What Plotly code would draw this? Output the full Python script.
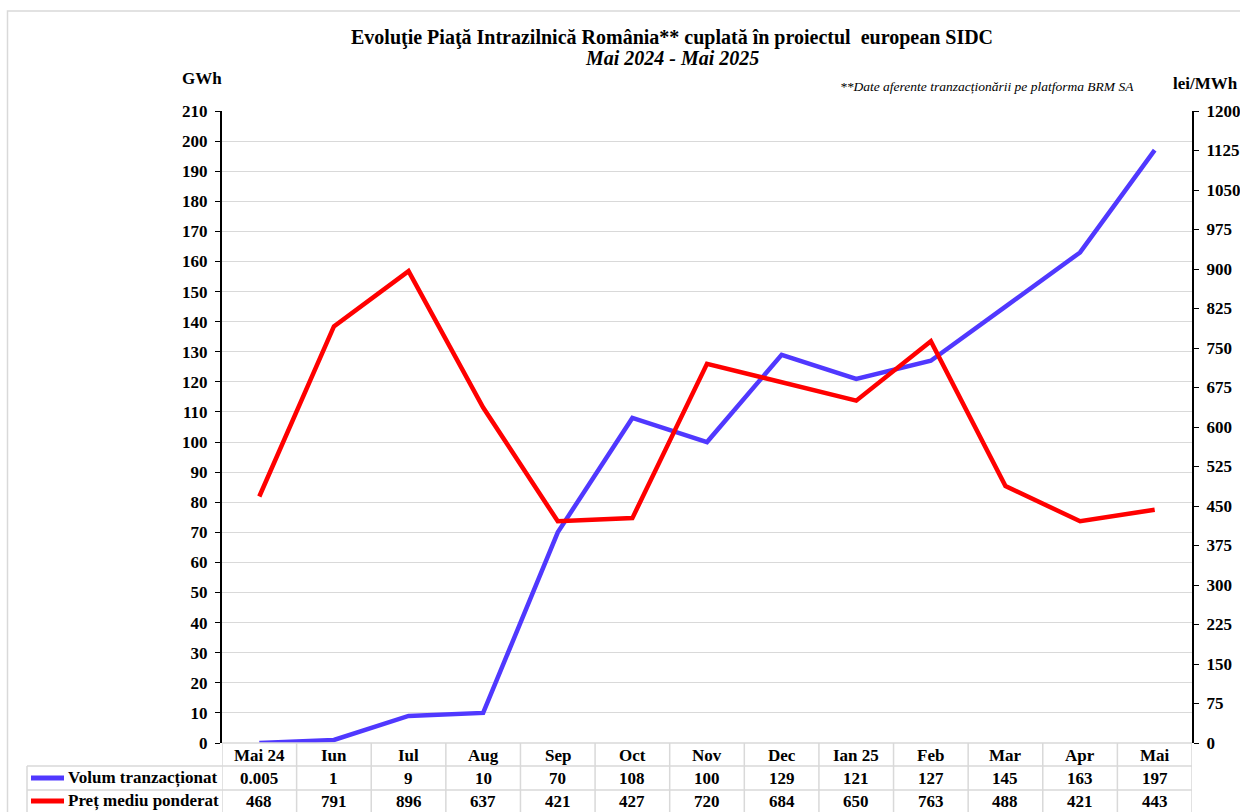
import plotly.graph_objects as go

months = ["Mai 24", "Iun", "Iul", "Aug", "Sep", "Oct", "Nov", "Dec", "Ian 25", "Feb", "Mar", "Apr", "Mai"]
volum = [0.005, 1, 9, 10, 70, 108, 100, 129, 121, 127, 145, 163, 197]
pret = [468, 791, 896, 637, 421, 427, 720, 684, 650, 763, 488, 421, 443]

W, H = 1240, 812
L, R, T, B = 222, 1192, 111, 743  # plot area in page pixels
FONT = "Liberation Serif, Times New Roman, serif"
BLUE = "#5038FF"
RED = "#FF0000"
GRID = "#d9d9d9"


def px(X):
    return (X - L) / (R - L)


def py(Y):
    return (B - Y) / (B - T)


fig = go.Figure()
xs = list(range(len(months)))
fig.add_trace(go.Scatter(x=xs, y=volum, mode="lines", name="Volum tranzacționat",
                         line=dict(color=BLUE, width=4.5), yaxis="y"))
fig.add_trace(go.Scatter(x=xs, y=pret, mode="lines", name="Preț mediu ponderat",
                         line=dict(color=RED, width=4.5), yaxis="y2"))

tickfont = dict(family=FONT, size=17, color="black")
fig.update_layout(
    template="none",
    width=W, height=H,
    margin=dict(l=L, r=W - R, t=T, b=H - B, autoexpand=False),
    paper_bgcolor="white", plot_bgcolor="white",
    showlegend=False,
    font=dict(family=FONT, color="black"),
    xaxis=dict(range=[-0.5, len(months) - 0.5], showticklabels=False, showgrid=False,
               zeroline=False, showline=False, ticks="", automargin=False),
    yaxis=dict(range=[0, 210], dtick=10, tickfont=tickfont, ticks="outside", ticklen=5,
               tickcolor="black", tickwidth=1, showline=True, linecolor="black", linewidth=2,
               gridcolor=GRID, gridwidth=1, zeroline=False, tickprefix="<b>", ticksuffix="</b>",
               automargin=False, ticklabelstandoff=4),
    yaxis2=dict(range=[0, 1200], dtick=75, tickfont=tickfont, ticks="outside", ticklen=5,
                tickcolor="black", tickwidth=1, showline=True, linecolor="black", linewidth=2,
                showgrid=False, zeroline=False, overlaying="y", side="right",
                tickprefix="<b>", ticksuffix="</b>", automargin=False, ticklabelstandoff=4),
)

shapes = []
line_style = dict(color=GRID, width=1.5)
# outer frame
shapes.append(dict(type="rect", xref="paper", yref="paper", x0=px(7.5), x1=px(1260), y0=py(830), y1=py(11),
                   line=dict(color=GRID, width=1.5), fillcolor="rgba(0,0,0,0)", layer="below"))
# table horizontal lines
shapes.append(dict(type="line", xref="paper", yref="paper", x0=0, x1=1, y0=0, y1=0, line=line_style))
for Y in (766, 790):
    shapes.append(dict(type="line", xref="paper", yref="paper", x0=px(27), x1=1, y0=py(Y), y1=py(Y), line=line_style))
# table vertical lines
shapes.append(dict(type="line", xref="paper", yref="paper", x0=px(27), x1=px(27), y0=py(766), y1=py(830), line=line_style))
for i in range(len(months) + 1):
    shapes.append(dict(type="line", xref="x", yref="paper", x0=i - 0.5, x1=i - 0.5, y0=0, y1=py(830), line=line_style))
# legend keys
shapes.append(dict(type="line", xref="paper", yref="paper", x0=px(31), x1=px(64), y0=py(778), y1=py(778),
                   line=dict(color=BLUE, width=5)))
shapes.append(dict(type="line", xref="paper", yref="paper", x0=px(31), x1=px(64), y0=py(801), y1=py(801),
                   line=dict(color=RED, width=5)))

ann = []
cell_font = dict(family=FONT, size=17, color="black")


def add(x, y, text, font, xref="paper", xanchor="center"):
    ann.append(dict(x=x, y=y, xref=xref, yref="paper", text=text, showarrow=False,
                    xanchor=xanchor, yanchor="middle", font=font))


for i, m in enumerate(months):
    add(i, py(755), f"<b>{m}</b>", cell_font, xref="x")
    add(i, py(778), f"<b>{volum[i]:g}</b>", cell_font, xref="x")
    add(i, py(801), f"<b>{pret[i]:g}</b>", cell_font, xref="x")
add(px(66), py(778), "<b>Volum tranzacționat</b>", cell_font, xanchor="left")
add(px(66), py(801), "<b>Preț mediu ponderat</b>", cell_font, xanchor="left")

title_font = dict(family=FONT, size=20, color="black")
add(px(672), py(37), "<b>Evoluţie Piaţă Intrazilnică România** cuplată în proiectul  european SIDC</b>", title_font)
add(px(672), py(58), "<b><i>Mai 2024 - Mai 2025</i></b>", title_font)
add(px(202), py(79), "<b>GWh</b>", cell_font)
add(px(1205), py(83), "<b>lei/MWh</b>", cell_font)
add(px(987), py(86), "<i>**Date aferente tranzacționării pe platforma BRM SA</i>",
    dict(family=FONT, size=13.5, color="black"))

fig.update_layout(shapes=shapes, annotations=ann)
fig.write_html("out.html",
               config={"displayModeBar": False},
               post_script="document.body.style.margin='0';document.body.style.overflow='hidden';")
